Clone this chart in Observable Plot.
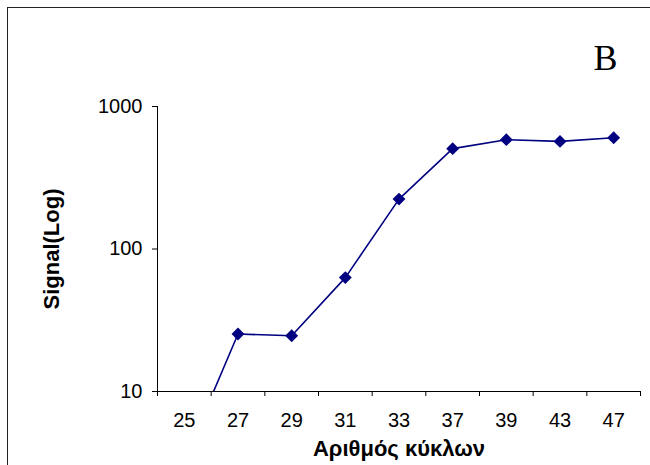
<!DOCTYPE html>
<html>
<head>
<meta charset="utf-8">
<script src="https://cdn.jsdelivr.net/npm/d3@7"></script>
<script src="https://cdn.jsdelivr.net/npm/@observablehq/plot@0.6"></script>
<style>
  html, body { margin: 0; padding: 0; background: #fff; overflow: hidden; }
  #wrap { position: relative; width: 650px; height: 465px; overflow: hidden; }
  #border { position: absolute; left: 7px; top: 7px; width: 1000px; height: 1000px; border-left: 1px solid #222; border-top: 1px solid #222; border-right: none; border-bottom: none; box-sizing: border-box; pointer-events: none; }
  #chart { position: absolute; left: 0; top: 0; }
</style>
</head>
<body>
<div id="wrap"><div id="chart"></div><div id="border"></div></div>
<script>
const cycles = ["25", "27", "29", "31", "33", "37", "39", "43", "47"];
const signal = [3.3, 25.3, 24.6, 63, 224, 506, 585, 569, 604];
const yTicks = [10, 100, 1000];
const yTitle = "Signal(Log)";
const xTitle = "Αριθμός κύκλων";
const panelLabel = "B";

const data = cycles.map((c, i) => ({i, cycle: c, v: signal[i]}));
const centers = d3.range(cycles.length);
const bounds = d3.range(cycles.length + 1).map(i => i - 0.5);

const navy = "#000080";
const font = "'Liberation Sans', Arial, sans-serif";

const chart = Plot.plot({
  width: 650,
  height: 465,
  marginLeft: 157,
  marginRight: 10,
  marginTop: 106,
  marginBottom: 74,
  style: {fontFamily: font, fontSize: "20px", color: "#000", background: "transparent"},
  x: {type: "linear", domain: [-0.5, cycles.length - 0.5]},
  y: {type: "log", domain: [10, 1000]},
  marks: [
    Plot.axisX({ticks: centers, tickFormat: i => cycles[i], tickSize: 0, tickPadding: 21, label: null, fontSize: 20}),
    Plot.axisX({ticks: bounds, tickFormat: () => "", tickSize: 5, label: null, stroke: "#000"}),
    Plot.axisY({ticks: yTicks, tickFormat: d => String(d), tickSize: 5, tickPadding: 10, label: null, fontSize: 20, stroke: "#000"}),
    Plot.ruleX([-0.5], {stroke: "#000"}),
    Plot.ruleY([10], {stroke: "#000"}),
    Plot.line(data, {x: "i", y: "v", stroke: navy, strokeWidth: 1.6, clip: true}),
    Plot.dot(data, {x: "i", y: "v", symbol: "diamond2", r: 5.8, fill: navy, stroke: "none", clip: true}),
    Plot.text([yTitle], {frameAnchor: "left", textAnchor: "middle", lineAnchor: "middle", rotate: -90, dx: -106, fontWeight: "bold", fontSize: 22, fill: "#000"}),
    Plot.text([xTitle], {frameAnchor: "bottom", textAnchor: "middle", lineAnchor: "middle", dy: 57, fontWeight: "bold", fontSize: 22, fill: "#000"}),
    Plot.text([panelLabel], {frameAnchor: "top-right", textAnchor: "middle", lineAnchor: "middle", dx: -35, dy: -48, fontFamily: "'Liberation Serif', 'Times New Roman', serif", fontSize: 36, fill: "#000"})
  ]
});
document.getElementById("chart").appendChild(chart);
</script>
</body>
</html>
